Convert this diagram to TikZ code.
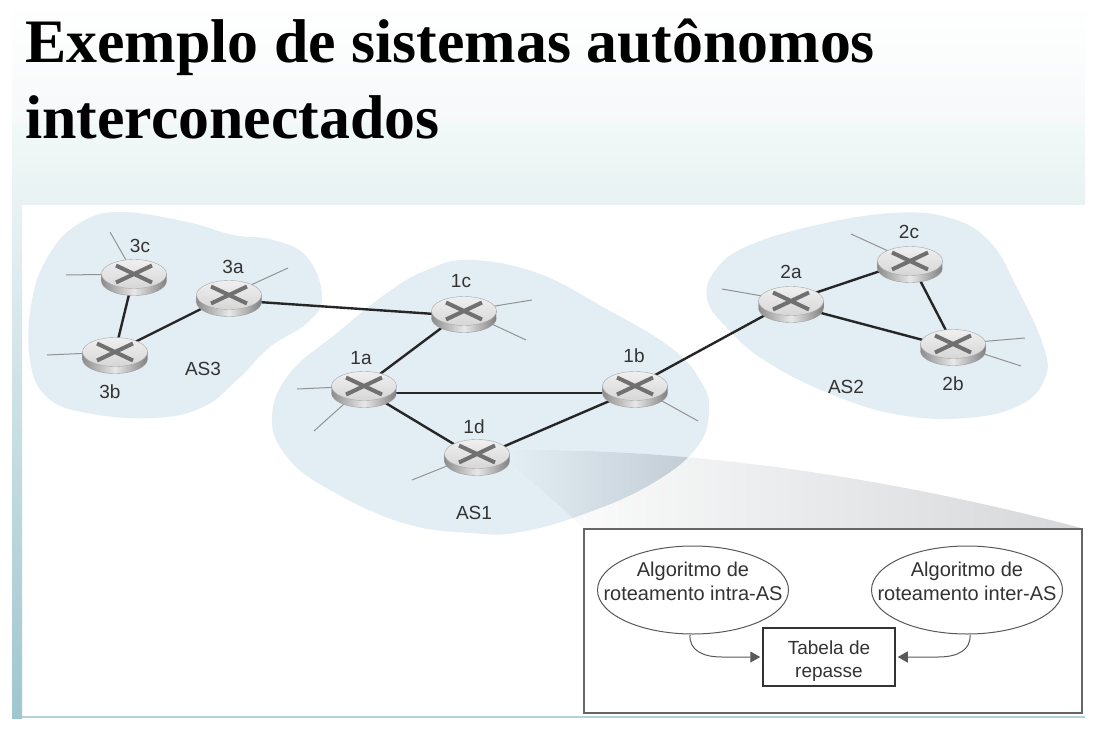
\documentclass[tikz,border=0pt]{standalone}
\usepackage{fontspec}
\setmainfont{Liberation Sans}
\newfontfamily\titlefont{Liberation Serif}
\usetikzlibrary{shapes.geometric,arrows.meta}
\pgfdeclarelayer{bg}
\pgfdeclarelayer{links}
\pgfsetlayers{bg,links,main}
\definecolor{blob}{HTML}{E3EDF4}
\definecolor{blobshade}{HTML}{BEC9D1}
\definecolor{slidemid}{HTML}{F6F8F9}
\definecolor{slidemidb}{HTML}{F1F8F8}
\definecolor{slidetint}{HTML}{E8F2F2}
\definecolor{slideteal}{HTML}{9FC6CE}
\definecolor{inkgrey}{HTML}{333333}
\definecolor{wedgegrey}{HTML}{D5D7D9}
\tikzset{
  x=1pt,y=-1pt,
  routertop/.style={ellipse,minimum width=65pt,minimum height=29pt,inner sep=0pt,top color=white!88!gray,bottom color=gray!32,draw=gray!70,line width=.4pt},
  routerbody/.style={left color=gray!90,right color=gray!100,middle color=gray!18,draw=gray!75,line width=.4pt},
  crossarm/.style={draw=black!56,line width=4pt},
  link/.style={draw=black!85,line width=2.4pt},
  stub/.style={draw=gray!85,line width=1pt},
  lab/.style={font=\fontsize{19}{22}\selectfont,text=inkgrey,inner sep=0pt},
  boxlab/.style={font=\fontsize{20}{24}\selectfont,text=inkgrey,align=center,inner sep=0pt},
  algo/.style={boxlab,text depth=18pt,ellipse,draw=black!65,line width=1pt,inner xsep=-25pt,inner ysep=0pt,minimum width=191pt,minimum height=88pt},
  flow/.style={draw=black!65,line width=1pt,-{Triangle[length=10pt,width=11pt]},shorten >=2pt},
}
\newcommand{\routernode}[3]{%
  \path[routerbody,shift={(#2,#3)}] (-32.5,0) -- (-32.5,7)
     .. controls (-32.5,15) and (-18,21.5) .. (0,21.5)
     .. controls (18,21.5) and (32.5,15) .. (32.5,7) -- (32.5,0) -- cycle;
  \node[routertop] (#1) at (#2,#3) {};
  \begin{scope}[shift={(#2,#3)}]
    \draw[crossarm] (-18,-8.5) -- (18,8.5);
    \draw[crossarm] (-18,8.5) -- (18,-8.5);
  \end{scope}
}
\begin{document}
\begin{tikzpicture}
\useasboundingbox (0,0) rectangle (1115,735);
\begin{pgfonlayer}{bg}
  % slide
  \fill[white] (0,0) rectangle (1115,735);
  \shade[top color=white,bottom color=slidemid] (12,2) rectangle (1085,125);
  \shade[top color=slidemidb,bottom color=slidetint] (12,125) rectangle (1085,205);
  \shade[top color=slidetint,bottom color=slideteal] (12,205) rectangle (22,718);
  \fill[slideteal!80] (22,716) rectangle (1085,718);
  % AS clouds
  \fill[blob] plot[smooth cycle,tension=.7] coordinates {(120,212)(187,222)(233,235)(273,240)(307,257)(322,297)(307,323)(270,347)(237,380)(203,407)(153,418)(87,413)(47,397)(30,360)(32,300)(50,253)(80,223)};
  \fill[blob] plot[smooth cycle,tension=.7] coordinates {(470,260)(537,273)(603,307)(670,347)(700,380)(709,410)(697,447)(653,483)(587,513)(520,532)(470,533)(403,523)(330,490)(287,457)(272,417)(290,373)(337,333)(387,293)(427,270)};
  \fill[blob] plot[smooth cycle,tension=.7] coordinates {(893,213)(950,218)(990,242)(1017,288)(1043,345)(1045,378)(1020,405)(967,418)(900,415)(833,395)(767,362)(727,328)(707,298)(717,268)(750,245)(817,225)};
  % zoom wedge
  \shade[left color=white,right color=wedgegrey]
     (510,450) .. controls (700,448) and (900,480) .. (1081,528) -- (583,528)
     .. controls (560,505) and (535,485) .. (510,465) -- cycle;
  \begin{scope}
    \clip (510,450) .. controls (700,448) and (900,480) .. (1081,528) -- (583,528)
     .. controls (560,505) and (535,485) .. (510,465) -- cycle;
    \clip plot[smooth cycle,tension=.7] coordinates {(470,260)(537,273)(603,307)(670,347)(700,380)(709,410)(697,447)(653,483)(587,513)(520,532)(470,533)(403,523)(330,490)(287,457)(272,417)(290,373)(337,333)(387,293)(427,270)};
    \shade[left color=blob,right color=blobshade] (510,445) rectangle (710,530);
  \end{scope}
\end{pgfonlayer}

\node[anchor=north west,inner sep=0pt,align=left,font=\titlefont\bfseries\fontsize{61.8}{76}\selectfont,text=black] (title) at (25,19) {Exemplo de sistemas autônomos\\interconectados};

% routers
\routernode{r3c}{134}{274}
\routernode{r3a}{229}{295}
\routernode{r3b}{115}{352}
\routernode{r1c}{464}{311}
\routernode{r1a}{364}{386}
\routernode{r1b}{635}{386}
\routernode{r1d}{477}{454}
\routernode{r2a}{791}{301}
\routernode{r2c}{910}{261}
\routernode{r2b}{953}{344}

% free ends of the stubs
\coordinate (s3c1) at (110,232);
\coordinate (s3c2) at (66,275);
\coordinate (s3a1) at (288,268);
\coordinate (s3b1) at (47,355);
\coordinate (s1c1) at (532,300);
\coordinate (s1c2) at (526,340);
\coordinate (s1a1) at (297,389);
\coordinate (s1a2) at (314,431);
\coordinate (s1b1) at (698,421);
\coordinate (s1d1) at (412,480);
\coordinate (s2a1) at (722,289);
\coordinate (s2c1) at (851,234);
\coordinate (s2b1) at (1025,338);
\coordinate (s2b2) at (1021,366);

\begin{pgfonlayer}{links}
  \draw[stub] (r3c.center) -- (s3c1);
  \draw[stub] (r3c.center) -- (s3c2);
  \draw[stub] (r3a.center) -- (s3a1);
  \draw[stub] (r3b.center) -- (s3b1);
  \draw[stub] (r1c.center) -- (s1c1);
  \draw[stub] (r1c.center) -- (s1c2);
  \draw[stub] (r1a.center) -- (s1a1);
  \draw[stub] (r1a.center) -- (s1a2);
  \draw[stub] (r1b.center) -- (s1b1);
  \draw[stub] (r1d.center) -- (s1d1);
  \draw[stub] (r2a.center) -- (s2a1);
  \draw[stub] (r2c.center) -- (s2c1);
  \draw[stub] (r2b.center) -- (s2b1);
  \draw[stub] (r2b.center) -- (s2b2);
  \draw[link] (r3c.center) -- (r3b.center);
  \draw[link] (r3b.center) -- (r3a.center);
  \draw[link] ([yshift=-5pt]r3a.center) -- ([yshift=-5pt]r1c.center);
  \draw[link] (r1a.center) -- (r1c.center);
  \draw[link] ([yshift=-7pt]r1a.center) -- ([yshift=-7pt]r1b.center);
  \draw[link] ([yshift=-4pt]r1a.center) -- ([yshift=-4pt]r1d.center);
  \draw[link] ([yshift=-4pt]r1d.center) -- ([yshift=-4pt]r1b.center);
  \draw[link] (r1b.center) -- (r2a.center);
  \draw[link] (r2a.center) -- (r2c.center);
  \draw[link] ([yshift=-4pt]r2a.center) -- ([yshift=-4pt]r2b.center);
  \draw[link] (r2c.center) -- (r2b.center);
\end{pgfonlayer}

% router and AS labels
\node[lab] (l3c) at (140,246) {3c};
\node[lab] (l3a) at (233,267) {3a};
\node[lab] (l3b) at (110,392) {3b};
\node[lab] (las3) at (203,369) {AS3};
\node[lab] (l1c) at (461,281) {1c};
\node[lab] (l1a) at (361,358) {1a};
\node[lab] (l1b) at (634,356) {1b};
\node[lab] (l1d) at (474,427) {1d};
\node[lab] (las1) at (474,513) {AS1};
\node[lab] (l2a) at (791,272) {2a};
\node[lab] (l2c) at (909,232) {2c};
\node[lab] (l2b) at (953,384) {2b};
\node[lab] (las2) at (846,387) {AS2};

% detail box
\node[draw=black!60,line width=1.5pt,fill=white,minimum width=498pt,minimum height=184pt,inner sep=0pt,anchor=north west] (detail) at (583,528) {};
\node[algo] (intra) at (693,590) {Algoritmo de\\roteamento intra-AS};
\node[algo] (inter) at (967,590) {Algoritmo de\\roteamento inter-AS};
\node[boxlab,font=\fontsize{19}{23}\selectfont,text height=45pt,draw=black!80,line width=1.5pt,minimum width=132pt,minimum height=58pt] (tab) at (829,657) {Tabela de\\repasse};
\draw[flow] ([xshift=-3pt]intra.south) .. controls (689,650) and (702,657) .. (722,657) -- (tab.west);
\draw[flow] ([xshift=3pt]inter.south) .. controls (971,650) and (958,657) .. (938,657) -- (tab.east);
\end{tikzpicture}
\end{document}
